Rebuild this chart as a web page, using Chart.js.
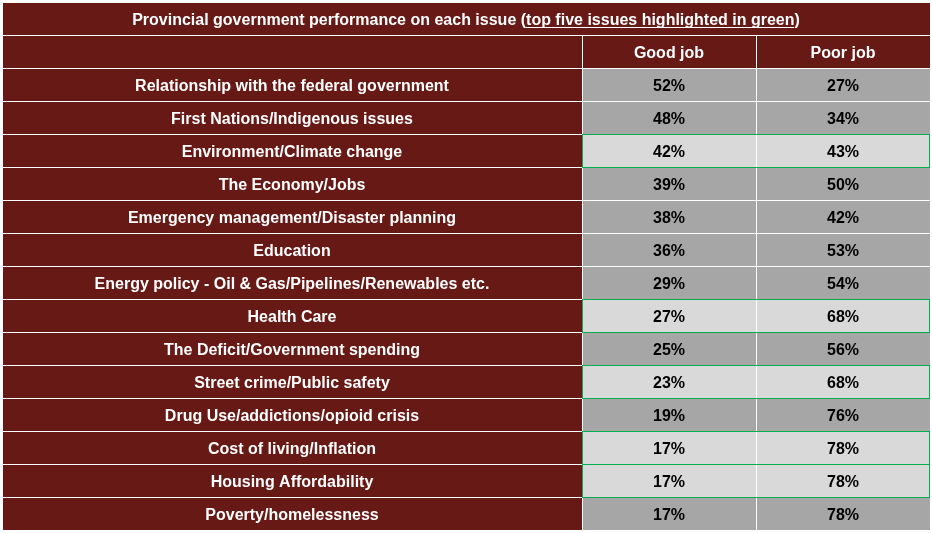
<!DOCTYPE html>
<html><head><meta charset="utf-8">
<script src="https://cdn.jsdelivr.net/npm/chart.js@4"></script>
<style>html,body{margin:0;padding:0;background:#fff;overflow:hidden}canvas{display:block}</style>
</head><body><canvas id="c" width="932" height="533"></canvas>
<script>
// ---- data ----
const titlePre = 'Provincial government performance on each issue (';
const titleUnderlined = 'top five issues highlighted in green';
const titlePost = ')';
const columnHeaders = ['Good job', 'Poor job'];
const issues = [
  'Relationship with the federal government',
  'First Nations/Indigenous issues',
  'Environment/Climate change',
  'The Economy/Jobs',
  'Emergency management/Disaster planning',
  'Education',
  'Energy policy - Oil & Gas/Pipelines/Renewables etc.',
  'Health Care',
  'The Deficit/Government spending',
  'Street crime/Public safety',
  'Drug Use/addictions/opioid crisis',
  'Cost of living/Inflation',
  'Housing Affordability',
  'Poverty/homelessness'
];
const goodJob = [52, 48, 42, 39, 38, 36, 29, 27, 25, 23, 19, 17, 17, 17];
const poorJob = [27, 34, 43, 50, 42, 53, 54, 68, 56, 68, 76, 78, 78, 78];
const topFive = [
  'Environment/Climate change',
  'Health Care',
  'Street crime/Public safety',
  'Cost of living/Inflation',
  'Housing Affordability'
];

// ---- layout / style ----
const TITLE_ROW = '__title', HEADER_ROW = '__header';
const rows = [TITLE_ROW, HEADER_ROW, ...issues];
const colEdges = [0, 580, 754, 928];
const DARK = '#661915', GREY = '#a6a6a6', LIGHT = '#d9d9d9', GREEN = '#00b050';
const FONT = '"Liberation Sans", Arial, sans-serif';

function cells(colIdx, withHeader) {
  const r = withHeader ? [HEADER_ROW, ...issues] : issues;
  return r.map(y => ({ x: [colEdges[colIdx], colEdges[colIdx + 1]], y }));
}
const valueFill = ctx => {
  const y = ctx.raw && ctx.raw.y;
  if (y === HEADER_ROW) return DARK;
  return topFive.includes(y) ? LIGHT : GREY;
};

const common = {
  grouped: false, barPercentage: 1, categoryPercentage: 1,
  borderColor: '#ffffff', borderWidth: { top: 1, left: 1, right: 0, bottom: 0 },
  borderSkipped: false, inflateAmount: 0
};

const tablePlugin = {
  id: 'tableText',
  afterDatasetsDraw(chart) {
    const c = chart.ctx;
    const xs = chart.scales.x;
    c.save();
    // green outline around highlighted rows (value columns)
    c.strokeStyle = GREEN; c.lineWidth = 1;
    const meta2 = chart.getDatasetMeta(2);
    meta2.data.forEach((el, i) => {
      const y = chart.data.datasets[2].data[i].y;
      if (!topFive.includes(y)) return;
      const top = Math.round(el.y - el.height / 2);
      const bot = Math.round(el.y + el.height / 2);
      const left = Math.round(xs.getPixelForValue(colEdges[1]));
      const right = Math.round(xs.getPixelForValue(colEdges[3]));
      c.strokeRect(left + 0.5, top + 0.5, right - left - 1, bot - top);
    });
    c.textBaseline = 'alphabetic';
    const base = el => Math.round(el.y + 6.5);
    // title
    const tEl = chart.getDatasetMeta(0).data[0];
    const tcx = (tEl.x + tEl.base) / 2, tby = base(tEl);
    c.font = 'bold 16px ' + FONT;
    c.fillStyle = '#ffffff';
    const w1 = c.measureText(titlePre).width, w2 = c.measureText(titleUnderlined).width, w3 = c.measureText(titlePost).width;
    const x0 = tcx - (w1 + w2 + w3) / 2;
    c.textAlign = 'left';
    c.fillText(titlePre, x0, tby);
    c.fillText(titleUnderlined, x0 + w1, tby);
    c.fillText(titlePost, x0 + w1 + w2, tby);
    c.fillRect(Math.round(x0 + w1), tby + 2, Math.round(w2), 1);
    c.textAlign = 'center';
    // row labels
    chart.getDatasetMeta(1).data.forEach((el, i) => {
      c.fillStyle = '#ffffff';
      c.fillText(issues[i], (el.x + el.base) / 2, base(el));
    });
    // value columns
    [2, 3].forEach((di, k) => {
      const vals = k === 0 ? goodJob : poorJob;
      chart.getDatasetMeta(di).data.forEach((el, i) => {
        const cx = (el.x + el.base) / 2;
        if (i === 0) { c.fillStyle = '#ffffff'; c.fillText(columnHeaders[k], cx, base(el)); }
        else { c.fillStyle = '#000000'; c.fillText(vals[i - 1] + '%', cx, base(el)); }
      });
    });
    c.restore();
  }
};

new Chart(document.getElementById('c'), {
  type: 'bar',
  data: {
    labels: rows,
    datasets: [
      { label: 'title', data: [{ x: [colEdges[0], colEdges[3]], y: TITLE_ROW }], backgroundColor: DARK, ...common },
      { label: 'Issue', data: cells(0, false), backgroundColor: DARK, ...common },
      { label: columnHeaders[0], data: cells(1, true), backgroundColor: valueFill, ...common },
      { label: columnHeaders[1], data: cells(2, true), backgroundColor: valueFill, ...common },
      { label: 'headerIssue', data: [{ x: [colEdges[0], colEdges[1]], y: HEADER_ROW }], backgroundColor: DARK, ...common }
    ]
  },
  options: {
    indexAxis: 'y', responsive: false, animation: false,
    layout: { padding: { left: 2, right: 2, top: 2, bottom: 3 } },
    plugins: { legend: { display: false }, tooltip: { enabled: false } },
    scales: {
      x: { type: 'linear', min: colEdges[0], max: colEdges[3], display: false },
      y: { type: 'category', display: false, offset: true }
    }
  },
  plugins: [tablePlugin]
});
</script>
</body></html>
